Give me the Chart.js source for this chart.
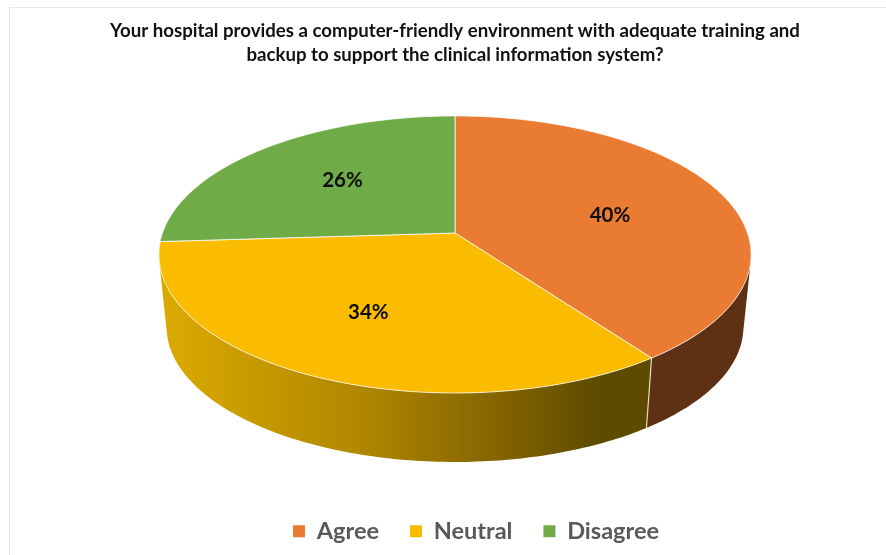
<!DOCTYPE html>
<html>
<head>
<meta charset="utf-8">
<title>Clinical information system survey</title>
<script src="https://cdn.jsdelivr.net/npm/chart.js@4/dist/chart.umd.min.js"></script>
<style>
    html, body { margin: 0; padding: 0; background: #ffffff; }
    #wrap { position: relative; width: 886px; height: 555px; overflow: hidden; }
    #frame { position: absolute; left: 9px; top: 7px; right: -2px; bottom: -2px; border: 1px solid #e8e8e8; }
    #pieChart { position: absolute; left: 0; top: 0; }
</style>
</head>
<body>
<div id="wrap">
    <div id="frame"></div>
    <canvas id="pieChart" width="886" height="555"></canvas>
</div>
<script>
const titleLines = [
    'Your hospital provides a computer-friendly environment with adequate training and',
    'backup to support the clinical information system?'
];
const categories = ['Agree', 'Neutral', 'Disagree'];
const percentValues = [40, 34, 26];
const sliceColors = ['#E97B32', '#FBBC00', '#6FAB46'];

// Tilted disc: the arcs' angles from Chart.js go through this perspective
const disc = { cx: 455, cy: 233, a: 292.5, b: 135.2, k: 0.155, vanishY: 3046, shrink: 0.974 };
// Small hand nudges for the percent labels
const labelNudge = [[-2, 6], [-8, 2], [4, -2]];

function project(angle, r = 1) {
    const u = Math.cos(angle) * r;
    const v = Math.sin(angle) * r;
    const w = 1 - disc.k * v;
    return { x: disc.cx + disc.a * u / w, y: disc.cy + disc.b * v / w };
}

function lower(p) {
    return {
        x: disc.cx + (p.x - disc.cx) * disc.shrink,
        y: disc.vanishY + (p.y - disc.vanishY) * disc.shrink
    };
}

function sampleArc(start, end) {
    const pts = [];
    const steps = Math.ceil((end - start) * 60);
    for (let i = 0; i <= steps; i++) {
        pts.push(project(start + (end - start) * i / steps));
    }
    return pts;
}

function wallFill(ctx, index) {
    if (index === 0) return '#5F3114';
    if (index === 2) return '#3E6428';
    const grad = ctx.createLinearGradient(165, 0, 645, 0);
    grad.addColorStop(0, '#DBA900');
    grad.addColorStop(0.4, '#B18800');
    grad.addColorStop(0.72, '#7F6100');
    grad.addColorStop(0.9, '#5F4B00');
    grad.addColorStop(1, '#5F4B00');
    return grad;
}

// adds one wall quad to the path, always wound the same way so the union fills clean
function addQuad(ctx, corners) {
    let area = 0;
    corners.forEach((c, n) => {
        const d = corners[(n + 1) % 4];
        area += c.x * d.y - d.x * c.y;
    });
    const quad = area < 0 ? corners.slice().reverse() : corners;
    quad.forEach((c, n) => n ? ctx.lineTo(c.x, c.y) : ctx.moveTo(c.x, c.y));
    ctx.closePath();
}

const pie3d = {
    id: 'pie3d',
    afterLayout(chart) {
        // legend sits right of the title centre in the reference
        chart.legend.left += 21;
        chart.legend.right += 21;
    },
    beforeDatasetDraw(chart) {
        const ctx = chart.ctx;
        const arcs = chart.getDatasetMeta(0).data;
        ctx.save();

        // side walls, only the front half can show
        [2, 0, 1].forEach(i => {
            const pts = sampleArc(arcs[i].startAngle, arcs[i].endAngle);
            ctx.beginPath();
            for (let n = 0; n < pts.length - 1; n++) {
                if (pts[n].y < disc.cy) continue;
                addQuad(ctx, [pts[n], pts[n + 1], lower(pts[n + 1]), lower(pts[n])]);
            }
            ctx.fillStyle = wallFill(ctx, i);
            ctx.fill();
        });

        // edge between the two visible walls
        const corner = project(arcs[0].endAngle);
        const cornerLow = lower(corner);
        ctx.beginPath();
        ctx.moveTo(corner.x, corner.y);
        ctx.lineTo(cornerLow.x, cornerLow.y);
        ctx.strokeStyle = 'rgba(255,250,225,0.8)';
        ctx.lineWidth = 1.2;
        ctx.stroke();

        // top faces
        arcs.forEach((arc, i) => {
            const pts = sampleArc(arc.startAngle, arc.endAngle);
            ctx.beginPath();
            ctx.moveTo(disc.cx, disc.cy);
            pts.forEach(p => ctx.lineTo(p.x, p.y));
            ctx.closePath();
            ctx.fillStyle = sliceColors[i];
            ctx.fill();
            ctx.strokeStyle = 'rgba(255,255,255,0.75)';
            ctx.lineWidth = 1;
            ctx.stroke();
        });

        // percent labels
        ctx.fillStyle = '#0d0d0d';
        ctx.font = 'bold 20.5px Lato';
        ctx.textAlign = 'center';
        ctx.textBaseline = 'middle';
        arcs.forEach((arc, i) => {
            const p = project((arc.startAngle + arc.endAngle) / 2, 0.58);
            ctx.fillText(percentValues[i] + '%', p.x + labelNudge[i][0], p.y + labelNudge[i][1]);
        });

        ctx.restore();
        return false;
    }
};

const pieChart = new Chart(document.getElementById('pieChart'), {
    type: 'pie',
    data: {
        labels: categories,
        datasets: [{
            data: percentValues,
            backgroundColor: sliceColors,
            borderWidth: 0
        }]
    },
    options: {
        responsive: false,
        animation: false,
        layout: { padding: { left: 24, top: 19, bottom: 2 } },
        plugins: {
            tooltip: { enabled: false },
            title: {
                display: true,
                text: titleLines,
                color: '#111111',
                font: { family: 'Lato', size: 18.65, weight: 'bold', lineHeight: 1.29 },
                padding: 0
            },
            legend: {
                position: 'bottom',
                labels: {
                    boxWidth: 12,
                    boxHeight: 12,
                    padding: 31,
                    color: '#595959',
                    font: { family: 'Lato', size: 23.5, weight: 'bold' }
                }
            }
        }
    },
    plugins: [pie3d]
});
</script>
</body>
</html>
